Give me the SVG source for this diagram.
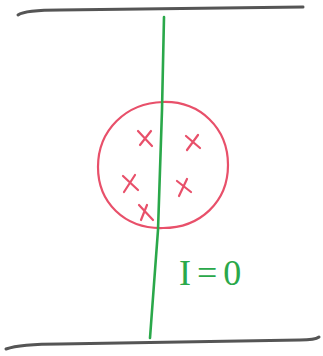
<svg xmlns="http://www.w3.org/2000/svg" width="323" height="356" viewBox="0 0 323 356">
<style>
.wall{fill:none;stroke:#555;stroke-width:3;stroke-linecap:round}
.wire{fill:none;stroke:#2aa84a;stroke-width:2.6;stroke-linecap:round}
.red{fill:none;stroke:#e8506a;stroke-width:2.2;stroke-linecap:round}
.lbl{font-family:"Liberation Serif","Times New Roman",serif;fill:#2aa84a}
</style>
<rect width="323" height="356" fill="#fff"/>
<g id="walls">
<path class="wall" d="M18,15 Q25,10 60,10 L303,7"/>
<path class="wall" d="M6,349 Q20,344 60,344 L300,340 Q315,340 319,337"/>
</g>
<g id="charges">
<path class="red" d="M163,102 C200,101 228,128 228,165 C228,202 200,228 163,228 C124,229 98,202 98,167 C98,130 126,103 163,102 Z"/>
<path class="red" d="M138,131 L152,146 M151,131 L140,145"/>
<path class="red" d="M186,136 L200,148 M198,135 L187,150"/>
<path class="red" d="M123,176 L138,190 M135,175 L124,192"/>
<path class="red" d="M177,181 L191,192 M187,179 L179,196"/>
<path class="red" d="M139,205 L153,220 M147,205 L141,220"/>
</g>
<g id="connectors">
<path class="wire" d="M164,17 L162,110 L158,230 L150,338"/>
</g>
<g id="label">
<text class="lbl" x="179" y="285" font-size="36" letter-spacing="6">I=0</text>
</g>
</svg>
